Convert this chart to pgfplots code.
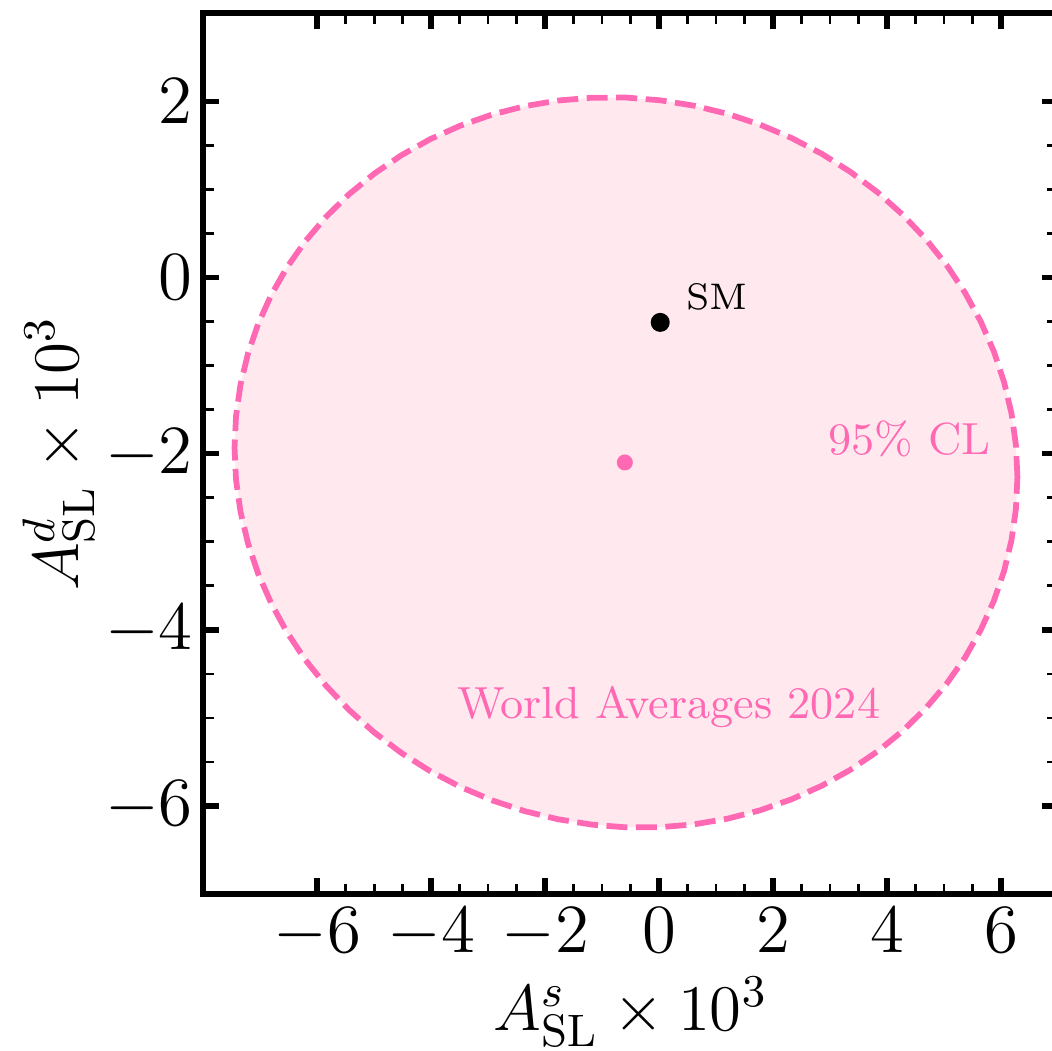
\RequirePackage{fix-cm}
\documentclass[border=0pt]{standalone}
\usepackage{pgfplots}
\pgfplotsset{compat=1.18}
\definecolor{hotpink}{RGB}{255,105,180}
\definecolor{fillpink}{RGB}{255,233,238}

\begin{document}
\begin{tikzpicture}
\begin{axis}[
  name=ax,
  scale only axis,
  width=170.92pt, height=176.2pt,
  xmin=-8, xmax=7, ymin=-7, ymax=3,
  xtick={-6,-4,-2,0,2,4,6}, ytick={-6,-4,-2,0,2},
  minor x tick num=3, minor y tick num=3,
  tick align=inside,
  major tick length=3.2pt, minor tick length=2.1pt,
  major tick style={line width=1.1pt, black},
  minor tick style={line width=0.55pt, black},
  axis line style={line width=1.1pt, black},
  tick label style={font=\fontsize{13.8}{16}\selectfont},
  xticklabel style={inner sep=0pt, yshift=-2.5pt},
  yticklabel style={inner sep=0pt, xshift=-1.9pt},
  every axis x label/.style={at={([yshift=-27.2pt]axis description cs:0.5,0)}, anchor=base, inner sep=0pt, font=\fontsize{13}{15}\selectfont},
  every axis y label/.style={at={([xshift=-24.98pt]axis description cs:0,0.5)}, rotate=90, anchor=base, inner sep=0pt, font=\fontsize{13}{15}\selectfont},
  xlabel={$A_{\mathrm{SL}}^{s}\times 10^{3}$},
  ylabel={$A_{\mathrm{SL}}^{d}\times 10^{3}$},
  clip=false,
]
% 95% CL contour, World Averages 2024
\addplot[draw=hotpink, fill=fillpink, line width=1.15pt, dash pattern=on 4.2pt off 1.7pt] coordinates {
(6.290,-2.266) (6.264,-1.904) (6.186,-1.544) (6.056,-1.188) (5.876,-0.839) (5.646,-0.500)
(5.370,-0.173) (5.048,0.140) (4.683,0.435) (4.278,0.711) (3.836,0.966) (3.360,1.198)
(2.855,1.404) (2.323,1.584) (1.770,1.735) (1.198,1.858) (0.613,1.950) (0.019,2.011)
(-0.580,2.042) (-1.179,2.040) (-1.773,2.008) (-2.358,1.944) (-2.930,1.849) (-3.483,1.724)
(-4.015,1.570) (-4.520,1.388) (-4.996,1.179) (-5.438,0.946) (-5.843,0.689) (-6.208,0.411)
(-6.530,0.114) (-6.806,-0.199) (-7.036,-0.528) (-7.216,-0.868) (-7.346,-1.218) (-7.424,-1.574)
(-7.450,-1.934) (-7.424,-2.296) (-7.346,-2.656) (-7.216,-3.012) (-7.036,-3.361) (-6.806,-3.700)
(-6.530,-4.027) (-6.208,-4.340) (-5.843,-4.635) (-5.438,-4.911) (-4.996,-5.166) (-4.520,-5.398)
(-4.015,-5.604) (-3.483,-5.784) (-2.930,-5.935) (-2.358,-6.058) (-1.773,-6.150) (-1.179,-6.211)
(-0.580,-6.242) (0.019,-6.240) (0.613,-6.208) (1.198,-6.144) (1.770,-6.049) (2.323,-5.924)
(2.855,-5.770) (3.360,-5.588) (3.836,-5.379) (4.278,-5.146) (4.683,-4.889) (5.048,-4.611)
(5.370,-4.315) (5.646,-4.001) (5.876,-3.672) (6.056,-3.332) (6.186,-2.982) (6.264,-2.626)
} -- cycle;
% central value
\addplot[only marks, mark=*, mark size=1.4pt, color=hotpink, mark options={draw=hotpink, fill=hotpink}] coordinates {(-0.6,-2.1)};
% SM
\addplot[only marks, mark=*, mark size=1.7pt, color=black, mark options={draw=black, fill=black}] coordinates {(0.021,-0.51)};
\node[anchor=base west, inner sep=0pt, font=\fontsize{7.4}{9}\selectfont] at (axis cs:0.456,-0.359) {SM};
\node[anchor=base, inner sep=0pt, text=hotpink, font=\fontsize{9}{11}\selectfont] at (axis cs:4.394,-2.004) {95\% CL};
\node[anchor=base, inner sep=0pt, text=hotpink, font=\fontsize{9}{11}\selectfont] at (axis cs:0.170,-5.005) {World Averages 2024};
\end{axis}
\pgfresetboundingbox
\useasboundingbox ([shift={(-40.64pt,-31.18pt)}]ax.south west) rectangle ++(210.4pt,210pt);
\end{tikzpicture}
\end{document}
